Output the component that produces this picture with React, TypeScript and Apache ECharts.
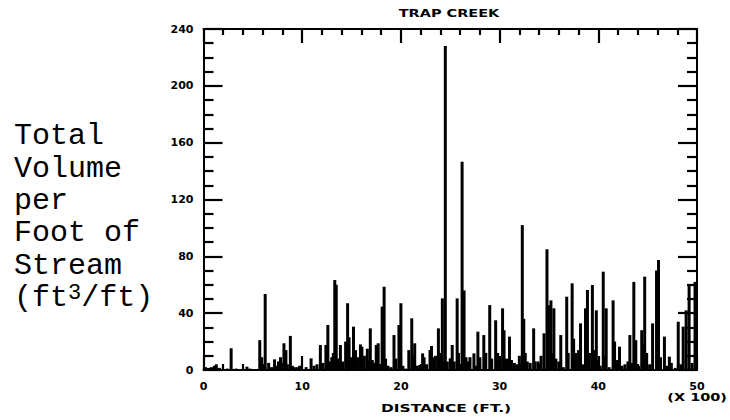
import React, { useEffect, useRef } from "react";
import * as echarts from "echarts";

// distance in hundreds of feet
const distance: number[] = [
  0.2, 0.5, 0.8, 1.1, 1.3, 1.6, 2.4, 2.8, 3.3, 4.4, 4.7, 5.2, 5.7, 5.9, 6.25, 6.6, 6.9,
  7.2, 7.4, 7.6, 7.8, 8.0, 8.15, 8.35, 8.5, 8.8, 9.0, 9.2, 9.5, 9.75, 10.4, 10.9, 11.2,
  11.5, 11.84, 12.1, 12.4, 12.6, 12.8, 13.0, 13.15, 13.3, 13.45, 13.6, 13.87, 14.1, 14.4,
  14.6, 14.75, 14.9, 15.2, 15.4, 15.6, 15.9, 16.05, 16.3, 16.6, 16.75, 16.9, 17.1, 17.3,
  17.5, 17.7, 17.9, 18.1, 18.3, 18.45, 18.7, 19.0, 19.3, 19.5, 19.8, 20.0, 20.2, 20.5,
  20.8, 21.1, 21.25, 21.4, 21.6, 21.9, 22.2, 22.35, 22.6, 22.95, 23.1, 23.3, 23.5, 23.8,
  23.95, 24.2, 24.35, 24.5, 24.7, 25.0, 25.2, 25.4, 25.7, 25.85, 26.2, 26.4, 26.6, 26.8,
  27.0, 27.4, 27.6, 27.8, 28.0, 28.4, 28.6, 29.0, 29.2, 29.6, 29.8, 30.3, 30.45, 30.7,
  31.0, 31.2, 31.5, 31.8, 32.0, 32.3, 32.45, 32.6, 32.8, 33.1, 33.45, 33.6, 33.9, 34.2,
  34.5, 34.8, 34.95, 35.2, 35.35, 35.5, 35.7, 36.0, 36.2, 36.45, 36.8, 36.95, 37.35, 37.5,
  37.7, 38.0, 38.2, 38.4, 38.7, 38.9, 39.1, 39.4, 39.55, 39.8, 40.0, 40.2, 40.5, 40.65,
  40.8, 41.1, 41.5, 41.65, 41.85, 42.15, 42.4, 42.7, 43.0, 43.2, 43.4, 43.6, 43.8, 44.1,
  44.4, 44.55, 44.7, 44.9, 45.2, 45.5, 45.9, 46.1, 46.3, 46.7, 46.9, 47.2, 47.4, 47.8,
  48.1, 48.35, 48.6, 48.9, 49.2, 49.5, 49.8,
];

// total volume per foot of stream (ft3/ft)
const volume: number[] = [
  2, 1.5, 2, 3, 4, 1.5, 1, 15.3, 1, 2.3, 1, 0.5, 21, 9, 53.5, 5, 2,
  7.5, 3, 6, 9, 5, 18.8, 14, 4, 24, 3, 2, 2, 3, 2, 8.2, 3,
  4, 17.6, 5, 17.6, 31.7, 6, 9, 12, 63.3, 60, 8, 17.6, 6, 20,
  47, 23, 9, 30.5, 14, 9, 18, 16.4, 10, 15, 7, 29.3, 7, 5,
  17.6, 18.8, 4, 44.6, 58.6, 8, 3, 2, 24.6, 8, 31.7, 47, 3, 1,
  14, 36.4, 10, 18.8, 3, 3.5, 11.7, 9, 4, 14, 16.9, 9, 10, 29.3,
  12, 50.4, 6, 228, 6, 8.2, 17.6, 6, 50.4, 12, 146.6, 56, 9, 6,
  9, 11.7, 3, 27, 9, 24.6, 12, 45.7, 8, 35, 12, 43.4, 28, 8,
  23.5, 7, 5, 4, 10, 102, 36, 12, 6, 5, 29.3, 6, 6, 10,
  25.8, 85, 45.7, 49, 12, 43.4, 8, 6, 24.6, 2, 51.6, 12, 61, 22,
  12, 14, 32.8, 4, 43.4, 56.3, 12, 59.8, 14, 42, 7, 3, 69.2, 10,
  43.4, 2, 49, 20, 7, 16.4, 3, 4, 6, 24.6, 5, 62, 21, 3,
  28, 18, 65.7, 12, 4, 32.8, 70, 77.4, 9, 23.5, 3, 9.4, 5, 1.5,
  34, 4, 30.5, 42, 60, 5, 62,
];

const yTicks = { min: 0, max: 240, interval: 40 };
const xTicks = { min: 0, max: 50, interval: 10 };

const labelFont = {
  fontFamily: "DejaVu Sans",
  fontWeight: "bold" as const,
  fontSize: 11,
  color: "#000",
};

export default function App() {
  const ref = useRef<HTMLDivElement>(null);
  useEffect(() => {
    if (!ref.current) return;
    const chart = echarts.init(ref.current, undefined, { renderer: "svg" });
    const line = { color: "#000", width: 2 };
    const tickLine = { color: "#000", width: 2.2 };
    const xAx = (pos: "bottom" | "top", showLabel: boolean) => ({
      type: "value",
      position: pos,
      min: xTicks.min,
      max: xTicks.max,
      interval: xTicks.interval,
      axisLine: { show: true, onZero: false, lineStyle: line },
      axisTick: { show: true, inside: true, length: 14, lineStyle: tickLine },
      minorTick: { show: true, splitNumber: 5, length: 6, lineStyle: tickLine },
      splitLine: { show: false },
      axisLabel: { show: showLabel, margin: 11, ...labelFont },
    });
    const yAx = (pos: "left" | "right", showLabel: boolean) => ({
      type: "value",
      position: pos,
      min: yTicks.min,
      max: yTicks.max,
      interval: yTicks.interval,
      axisLine: { show: true, onZero: false, lineStyle: line },
      axisTick: { show: true, inside: true, length: 19, lineStyle: tickLine },
      minorTick: { show: true, splitNumber: 4, length: 10, lineStyle: tickLine },
      splitLine: { show: false },
      axisLabel: { show: showLabel, margin: 10, ...labelFont },
    });
    chart.setOption({
      animation: false,
      backgroundColor: "#fff",
      grid: { left: 203.5, right: 33, top: 29, bottom: 50 },
      xAxis: [xAx("bottom", true), xAx("top", false)],
      yAxis: [yAx("left", true), yAx("right", false)],
      series: [
        {
          type: "bar",
          xAxisIndex: 0,
          yAxisIndex: 0,
          barWidth: 3,
          itemStyle: { color: "#000" },
          data: distance.map((d, i) => [d, volume[i]]),
        },
      ],
      graphic: [
        {
          type: "text",
          x: 449,
          y: 13,
          scaleX: 1.45,
          style: {
            text: "TRAP CREEK",
            fontFamily: "DejaVu Sans",
            fontWeight: "bold",
            fontSize: 10,
            fill: "#000",
            textAlign: "center",
            textVerticalAlign: "middle",
          },
        },
        {
          type: "text",
          x: 446,
          y: 409,
          scaleX: 1.55,
          style: {
            text: "DISTANCE (FT.)",
            fontFamily: "DejaVu Sans",
            fontWeight: "bold",
            fontSize: 10,
            fill: "#000",
            textAlign: "center",
            textVerticalAlign: "middle",
          },
        },
        {
          type: "text",
          x: 727,
          y: 397.5,
          scaleX: 1.45,
          style: {
            text: "(X 100)",
            fontFamily: "DejaVu Sans",
            fontWeight: "bold",
            fontSize: 10,
            fill: "#000",
            textAlign: "right",
            textVerticalAlign: "middle",
          },
        },
        {
          type: "text",
          x: 14,
          y: 120,
          style: {
            text: "Total\nVolume\nper\nFoot of\nStream\n(ft{s|3}/ft)",
            fontFamily: "Liberation Mono",
            fontSize: 30,
            lineHeight: 32.4,
            fill: "#000",
            textAlign: "left",
            textVerticalAlign: "top",
            rich: {
              s: {
                fontFamily: "Liberation Mono",
                fontSize: 22,
                lineHeight: 20,
                verticalAlign: "top",
                fill: "#000",
              },
            },
          },
        },
      ],
    });
    return () => chart.dispose();
  }, []);
  return (
    <div
      ref={ref}
      style={{ position: "fixed", left: 0, top: 0, width: 730, height: 420 }}
    />
  );
}
